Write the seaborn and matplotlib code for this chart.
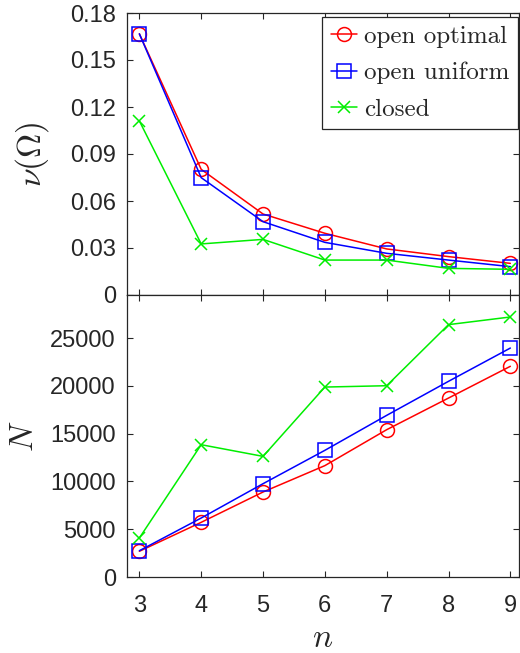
import numpy as np
import pandas as pd
import matplotlib
matplotlib.use("Agg")
import matplotlib.pyplot as plt
import seaborn as sns

# data
n = [3, 4, 5, 6, 7, 8, 9]
nu_open_optimal = [0.1667, 0.0802, 0.0517, 0.0394, 0.0294, 0.0245, 0.0202]
nu_open_uniform = [0.1667, 0.0749, 0.0468, 0.0336, 0.0266, 0.0223, 0.0181]
nu_closed = [0.1111, 0.0326, 0.0355, 0.0223, 0.0223, 0.0170, 0.0164]
N_open_optimal = [2690, 5720, 8890, 11650, 15410, 18720, 22040]
N_open_uniform = [2750, 6170, 9760, 13250, 16910, 20470, 23950]
N_closed = [4080, 13840, 12620, 19870, 20010, 26400, 27200]

labels = ["open optimal", "open uniform", "closed"]
colors = ["#ff0000", "#0000ff", "#00ee00"]
markers = ["o", "s", "x"]
msizes = [10, 10, 8]

sns.set_style("ticks")
plt.rcParams['font.family'] = ['Liberation Sans', 'DejaVu Sans']
plt.rcParams['mathtext.fontset'] = 'cm'

edge = '#262626'

fig = plt.figure(figsize=(5.2, 6.53), dpi=100)
ax1 = fig.add_axes([127 / 520, 1 - 295 / 653, 392 / 520, 282 / 653])
ax2 = fig.add_axes([127 / 520, 1 - 577 / 653, 392 / 520, 282 / 653], sharex=ax1)

for ax, series in [(ax1, [nu_open_optimal, nu_open_uniform, nu_closed]),
                   (ax2, [N_open_optimal, N_open_uniform, N_closed])]:
    for lab, vals, c, m, ms in zip(labels, series, colors, markers, msizes):
        df = pd.DataFrame({'n': n, 'v': vals})
        sns.lineplot(data=df, x='n', y='v', ax=ax, color=c, marker=m,
                     markersize=ms, mfc='none', mec=c, mew=1.1,
                     linewidth=1.1, label=lab)
    for s in ax.spines.values():
        s.set_visible(True)
        s.set_color(edge)
        s.set_linewidth(0.9)
    ax.tick_params(direction='in', length=4, width=0.8, color=edge,
                   labelsize=17, labelcolor='#262626',
                   top=True, right=True)
    ax.tick_params(axis='y', pad=8)
    ax.tick_params(axis='x', pad=13)

ax1.set_xlim(2.8, 9.14)
ax1.set_xticks(n)
ax1.set_ylim(0, 0.18)
ax1.set_yticks([0, 0.03, 0.06, 0.09, 0.12, 0.15, 0.18])
ax1.set_yticklabels(['0', '0.03', '0.06', '0.09', '0.12', '0.15', '0.18'])
ax1.tick_params(axis='x', labelbottom=False)
ax1.set_xlabel('')
ax1.set_ylabel(r'$\nu(\Omega)$', fontsize=24)
ax1.yaxis.set_label_coords(-0.195, 0.5)

ax2.set_ylim(0, 29500)
ax2.set_yticks([0, 5000, 10000, 15000, 20000, 25000])
ax2.set_yticklabels(['0', '5000', '10000', '15000', '20000', '25000'])
ax2.set_xlabel(r'$n$', fontsize=24, labelpad=4)
ax2.set_ylabel(r'$N$', fontsize=24)
ax2.yaxis.set_label_coords(-0.222, 0.5)
ax2.get_legend().remove()

leg = ax1.legend(loc='upper right', bbox_to_anchor=(0.997, 0.986),
                 prop={'family': 'cmr10', 'size': 18},
                 frameon=True, fancybox=False, edgecolor='#262626',
                 framealpha=1, handlelength=1.05, handletextpad=0.25,
                 borderaxespad=0, borderpad=0.35, labelspacing=0.55)
leg.get_frame().set_linewidth(0.9)

fig.savefig('out.png', dpi=100)
